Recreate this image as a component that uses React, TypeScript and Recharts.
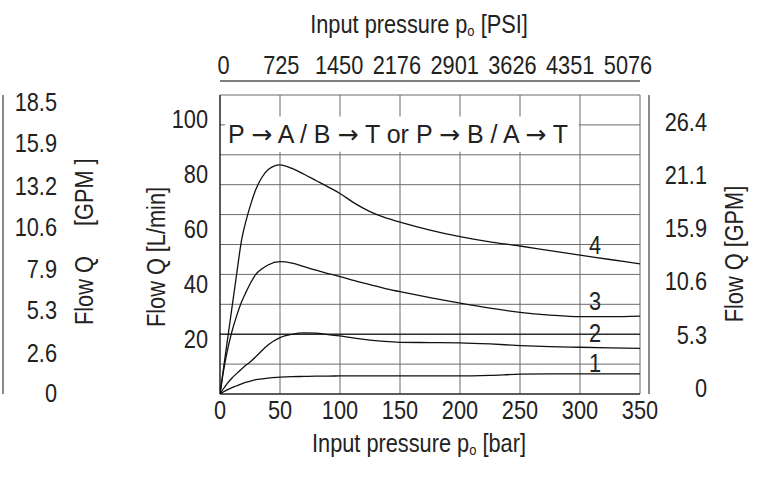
import React from 'react';
import {
  LineChart,
  Line,
  XAxis,
  YAxis,
  CartesianGrid,
  ReferenceArea,
  ReferenceLine,
} from 'recharts';

// ---------- data ----------
const pressureBar = [0, 3, 6, 10, 14, 18, 22, 26, 30, 35, 40, 50, 60, 70, 80, 90, 100, 112, 125, 137, 150, 175, 200, 225, 250, 275, 300, 325, 350];
const flowCurve1 = [0, 0.8, 1.5, 2.3, 3.0, 3.7, 4.3, 4.8, 5.2, 5.5, 5.8, 6.1, 6.3, 6.4, 6.5, 6.5, 6.6, 6.6, 6.6, 6.6, 6.6, 6.6, 6.6, 6.8, 7.2, 7.3, 7.3, 7.3, 7.3];
const flowCurve2 = [0, 2.0, 3.8, 5.8, 7.5, 9.1, 10.6, 12.0, 13.6, 15.8, 17.8, 20.5, 21.7, 22.2, 22.1, 21.6, 21.1, 20.3, 19.6, 19.1, 18.8, 18.7, 18.6, 18.2, 17.6, 17.2, 17.0, 16.8, 16.6];
const flowCurve3 = [0, 8.6, 15.5, 22.8, 28.6, 33.5, 37.3, 40.8, 43.6, 45.5, 46.9, 48.1, 47.6, 46.3, 45.0, 43.8, 42.7, 41.2, 39.8, 38.4, 37.2, 35.0, 33.0, 31.2, 29.7, 28.7, 28.1, 28.1, 28.3];
const flowCurve4 = [0, 9.5, 19.0, 31.5, 44.0, 56.0, 63.5, 69.5, 74.5, 78.8, 81.5, 83.3, 82.0, 79.9, 77.6, 75.3, 72.9, 69.4, 66.3, 64.2, 62.5, 59.6, 57.2, 55.3, 53.8, 52.1, 50.5, 48.9, 47.3];

const curveNames = ['1', '2', '3', '4'];
const barTicks = [0, 50, 100, 150, 200, 250, 300, 350];
const psiLabels = ['0', '725', '1450', '2176', '2901', '3626', '4351', '5076'];
const lminTicks = [20, 40, 60, 80, 100];
const gpmLeftTicks = [0, 2.6, 5.3, 7.9, 10.6, 13.2, 15.9, 18.5];
const gpmRightTicks = [0, 5.3, 10.6, 15.9, 21.1, 26.4];
const gridTicks = [0, 1, 2, 3, 4, 5, 6, 7, 8, 9, 10];
const flowPathParts = ['P ', ' A / B ', ' T or P ', ' B / A ', ' T'];
const ARROW = '\u2192';

const data = pressureBar.map((p, i) => ({
  p,
  c1: flowCurve1[i],
  c2: flowCurve2[i],
  c3: flowCurve3[i],
  c4: flowCurve4[i],
}));

// ---------- layout / style constants ----------
const W = 763;
const H = 478;
const FONT = "'Liberation Sans', Arial, sans-serif";
const FS = 25;
const SX = 0.87; // horizontal condensing of the text
const TEXT = '#222';
const GRID = '#6a6a6a';
const OUTER = '#8a8a8a';
const labelAtBar = 300;
const curveLabelDy = [-2, -5, -7, -1];
const boxArea = { x1: 4.2, x2: 299, y1: 8.1, y2: 9.28 };

const CText = ({ x, y, anchor = 'start', rotate = 0, sx = SX, children }: any) => (
  <text
    transform={`translate(${x},${y}) rotate(${rotate}) scale(${sx},1)`}
    textAnchor={anchor}
    fontSize={FS}
    fill={TEXT}
    style={{ whiteSpace: 'pre' }}
  >
    {children}
  </text>
);

const makeTick = (dyEm: number, anchor?: string, fmt?: (v: number) => string) => (props: any) => {
  const { x, y, payload, textAnchor } = props;
  const label = fmt ? fmt(payload.value) : String(payload.value);
  return (
    <CText x={x} y={y + dyEm * FS} anchor={anchor || textAnchor}>
      {label}
    </CText>
  );
};

const psiFormat = (v: number) => psiLabels[barTicks.indexOf(v)] ?? '';

const vTitle = (text: string, dx: number, dy: number) => (props: any) => {
  const vb = props.viewBox || {};
  return (
    <CText x={vb.x + dx} y={vb.y + vb.height / 2 + dy} anchor="middle" rotate={-90}>
      {text}
    </CText>
  );
};

const hTitle = (unit: string, dx: number, baseline: number) => (props: any) => {
  const vb = props.viewBox || {};
  return (
    <CText x={vb.x + vb.width / 2 + dx} y={vb.y + baseline} anchor="middle">
      <tspan>Input pressure p</tspan>
      <tspan fontSize={15} dy={3}>o</tspan>
      <tspan dy={-3}>{` [${unit}]`}</tspan>
    </CText>
  );
};

const curveLabel = (name: string, dy: number) => (props: any) => {
  const { x, y, index } = props;
  if (pressureBar[index] !== labelAtBar) return null;
  return (
    <CText x={x + 15} y={y + dy} anchor="middle">
      {name}
    </CText>
  );
};

const boxLabel = (props: any) => {
  const vb = props.viewBox || {};
  const nodes: any[] = [];
  flowPathParts.forEach((part, i) => {
    nodes.push(<tspan key={`t${i}`}>{part}</tspan>);
    if (i < flowPathParts.length - 1) {
      nodes.push(
        <tspan key={`a${i}`} fontFamily="'DejaVu Sans', sans-serif">
          {ARROW}
        </tspan>
      );
    }
  });
  return (
    <CText x={vb.x + 3} y={vb.y + vb.height / 2 + 9} sx={1.0}>
      {nodes}
    </CText>
  );
};

export default function App() {
  const keys = ['c1', 'c2', 'c3', 'c4'];
  return (
    <div style={{ position: 'absolute', left: 0, top: 0, width: W, height: H, fontFamily: FONT, background: '#fff' }}>
      <LineChart width={W} height={H} data={data} margin={{ top: 0, right: 0, bottom: 0, left: 0 }}>
        {/* x axes */}
        <XAxis
          xAxisId="a_bar"
          dataKey="p"
          type="number"
          domain={[0, 350]}
          ticks={barTicks}
          interval={0}
          allowDataOverflow
          orientation="bottom"
          height={84}
          tickSize={0}
          tickLine={false}
          tickMargin={7}
          tick={makeTick(0.71)}
          axisLine={{ stroke: '#000', strokeWidth: 1 }}
          label={hTitle('bar', -11, 58)}
        />
        <XAxis
          xAxisId="b_spT"
          dataKey="p"
          type="number"
          domain={[0, 350]}
          orientation="top"
          height={14}
          tick={false}
          tickLine={false}
          axisLine={false}
          allowDataOverflow
        />
        <XAxis
          xAxisId="c_psi"
          dataKey="p"
          type="number"
          domain={[-3.03, 360.4]}
          ticks={barTicks}
          interval={0}
          allowDataOverflow
          orientation="top"
          height={81}
          tickSize={0}
          tickLine={false}
          tickMargin={7}
          tick={makeTick(0, 'middle', psiFormat)}
          axisLine={{ stroke: '#555', strokeWidth: 1.5 }}
          label={hTitle('PSI', -11, 33)}
        />
        {/* y axes, left: inner to outer */}
        <YAxis
          yAxisId="a_lmin"
          type="number"
          domain={[0, 108.7]}
          ticks={lminTicks}
          interval={0}
          allowDataOverflow
          orientation="left"
          width={126}
          tickSize={0}
          tickLine={false}
          tickMargin={12}
          tick={makeTick(0.355, 'end')}
          axisLine={{ stroke: '#000', strokeWidth: 1 }}
          label={vTitle('Flow Q [L/min]', 71, 12.5)}
        />
        <YAxis
          yAxisId="b_gpmL"
          type="number"
          domain={[-0.03, 18.98]}
          ticks={gpmLeftTicks}
          interval={0}
          allowDataOverflow
          orientation="left"
          width={91}
          tickSize={0}
          tickLine={false}
          tickMargin={37}
          tick={makeTick(0.355, 'end')}
          axisLine={false}
          label={vTitle('Flow Q     [GPM ]', 90, -2.8)}
        />
        <YAxis
          yAxisId="c_spL"
          type="number"
          domain={[0, 1]}
          orientation="left"
          width={3}
          tick={false}
          tickLine={false}
          axisLine={{ stroke: OUTER, strokeWidth: 2 }}
          allowDataOverflow
        />
        {/* y axes, right: inner to outer */}
        <YAxis
          yAxisId="d_spR"
          type="number"
          domain={[0, 1]}
          orientation="right"
          width={9}
          tick={false}
          tickLine={false}
          axisLine={false}
          allowDataOverflow
        />
        <YAxis
          yAxisId="e_gpmR"
          type="number"
          domain={[-0.54, 29.04]}
          ticks={gpmRightTicks}
          interval={0}
          allowDataOverflow
          orientation="right"
          width={114}
          tickSize={0}
          tickLine={false}
          tickMargin={58}
          tick={makeTick(0.355, 'end')}
          axisLine={{ stroke: OUTER, strokeWidth: 2 }}
          label={vTitle('Flow Q [GPM]', 94, 9.5)}
        />
        <YAxis yAxisId="z_grid" type="number" domain={[0, 10]} ticks={gridTicks} width={0} hide allowDataOverflow />

        <CartesianGrid xAxisId="a_bar" yAxisId="z_grid" stroke={GRID} strokeWidth={1} />
        <ReferenceLine xAxisId="a_bar" yAxisId="z_grid" y={2} stroke="#000" strokeWidth={1} />
        <ReferenceArea
          xAxisId="a_bar"
          yAxisId="z_grid"
          x1={boxArea.x1}
          x2={boxArea.x2}
          y1={boxArea.y1}
          y2={boxArea.y2}
          fill="#fff"
          fillOpacity={1}
          stroke="none"
          label={boxLabel}
        />

        {keys.map((k, i) => (
          <Line
            key={k}
            xAxisId="a_bar"
            yAxisId="a_lmin"
            type="monotone"
            dataKey={k}
            stroke="#111"
            strokeWidth={1.3}
            dot={false}
            activeDot={false}
            isAnimationActive={false}
            label={curveLabel(curveNames[i], curveLabelDy[i])}
          />
        ))}
      </LineChart>
    </div>
  );
}
